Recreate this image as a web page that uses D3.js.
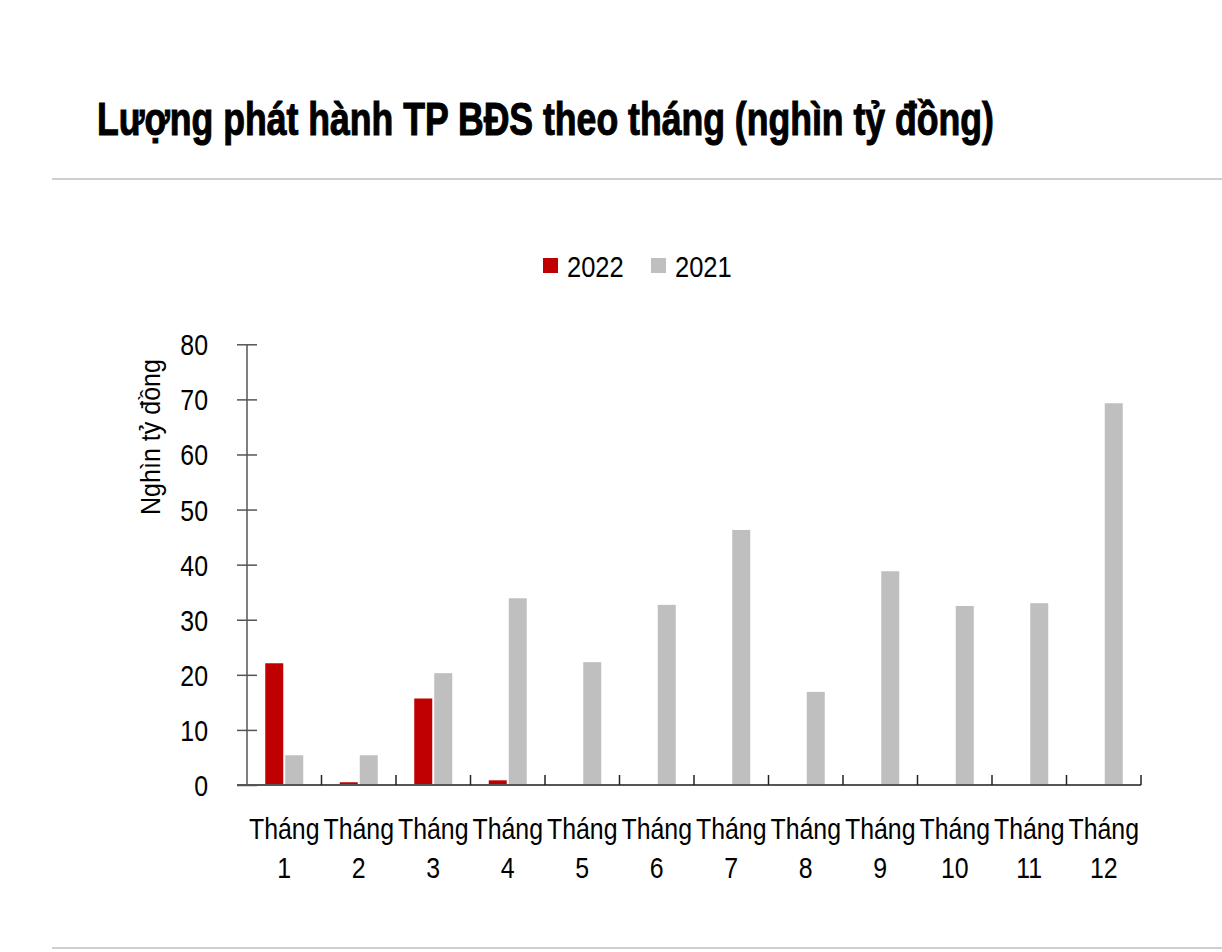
<!DOCTYPE html>
<html><head><meta charset="utf-8">
<script src="https://cdn.jsdelivr.net/npm/d3@7"></script>
<style>body{margin:0;background:#fff}svg{display:block}</style>
</head><body>
<script>
const months = ["1","2","3","4","5","6","7","8","9","10","11","12"];
const series = ["2022","2021"];
const values2022 = [22.1,0.5,15.7,0.85,null,null,null,null,null,null,null,null];
const values2021 = [5.4,5.4,20.3,33.9,22.3,32.7,46.3,16.9,38.8,32.5,33.0,69.3];
const yTicks = [0,10,20,30,40,50,60,70,80];
const colors = ["#c00000","#bfbfbf"];
const title = "Lượng phát hành TP BĐS theo tháng (nghìn tỷ đồng)";
const yTitle = "Nghìn tỷ đồng";
const monthWord = "Tháng";

const W=1222,H=952;
const FONT="'Liberation Sans','Arial',sans-serif";
const SX=0.83;
const svg=d3.select("body").append("svg").attr("width",W).attr("height",H);

const t=svg.append("text").attr("font-family",FONT).attr("font-weight","bold")
  .attr("font-size",47).attr("fill","#000").attr("stroke","#000").attr("stroke-width",1.1)
  .text(title);
const tw=t.node().getComputedTextLength();
t.attr("transform",`translate(97,135) scale(${897/tw},1)`);

svg.append("line").attr("x1",52).attr("x2",W).attr("y1",179).attr("y2",179).attr("stroke","#cfcfcf").attr("stroke-width",2);
svg.append("line").attr("x1",52).attr("x2",W).attr("y1",948).attr("y2",948).attr("stroke","#cfcfcf").attr("stroke-width",2);

const x=d3.scaleBand().domain(months).range([247,1141]);
const y=d3.scaleLinear().domain([0,80]).range([785,344.3]);
const xs=d3.scaleBand().domain(series).range([0,38]).paddingInner(0.1);

// legend
const leg=[{s:"2022",x:543},{s:"2021",x:651}];
leg.forEach((l,i)=>{
  svg.append("rect").attr("x",l.x).attr("y",258).attr("width",15).attr("height",15).attr("fill",colors[i]);
  svg.append("text").attr("transform",`translate(${l.x+24},277) scale(0.85,1)`)
    .attr("font-family",FONT).attr("font-size",30).text(series[i]);
});

// bars
const data=[values2022,values2021];
data.forEach((vals,si)=>{
  svg.append("g").selectAll("rect").data(months.map((m,i)=>({m,v:vals[i]})).filter(d=>d.v!=null))
    .join("rect")
    .attr("x",d=>x(d.m)+x.bandwidth()/2-19+xs(series[si]))
    .attr("width",xs.bandwidth())
    .attr("y",d=>y(d.v)).attr("height",d=>y(0)-y(d.v))
    .attr("fill",colors[si]);
});

// y axis
const ya=svg.append("g").attr("transform","translate(247,0)")
  .call(d3.axisLeft(y).tickValues(yTicks).tickSize(10).tickPadding(29));
ya.select(".domain").attr("stroke","#555").attr("stroke-width",1.5).attr("d","M0,344.3V785");
ya.selectAll(".tick line").attr("x1",-10).attr("x2",10).attr("stroke","#555").attr("stroke-width",1.5);
ya.selectAll(".tick text").attr("font-family",FONT).attr("font-size",29).attr("fill","#000").attr("dy","0.36em")
  .attr("x",-39/0.86).attr("transform","scale(0.86,1)");

// x axis
svg.append("line").attr("x1",237).attr("x2",1141).attr("y1",785).attr("y2",785).attr("stroke","#555").attr("stroke-width",2);
svg.append("g").selectAll("line").data(months.slice(1).concat(["end"]))
  .join("line")
  .attr("x1",d=>d==="end"?1141:x(d)).attr("x2",d=>d==="end"?1141:x(d))
  .attr("y1",775).attr("y2",785).attr("stroke","#222").attr("stroke-width",1.5);
const xl=svg.append("g").selectAll("text").data(months).join("text")
  .attr("transform",`scale(${SX},1)`).attr("text-anchor","middle")
  .attr("font-family",FONT).attr("font-size",30).attr("fill","#000");
xl.append("tspan").attr("x",d=>(x(d)+x.bandwidth()/2)/SX).attr("y",839).text(monthWord);
xl.append("tspan").attr("x",d=>(x(d)+x.bandwidth()/2)/SX).attr("y",878).text(d=>d);

// y title
const yt=svg.append("text").attr("text-anchor","middle")
  .attr("font-family",FONT).attr("font-size",27).attr("fill","#000").text(yTitle);
const yw=yt.node().getComputedTextLength();
yt.attr("transform",`translate(160,437) rotate(-90) scale(${156/yw},1)`);
</script>
</body></html>
